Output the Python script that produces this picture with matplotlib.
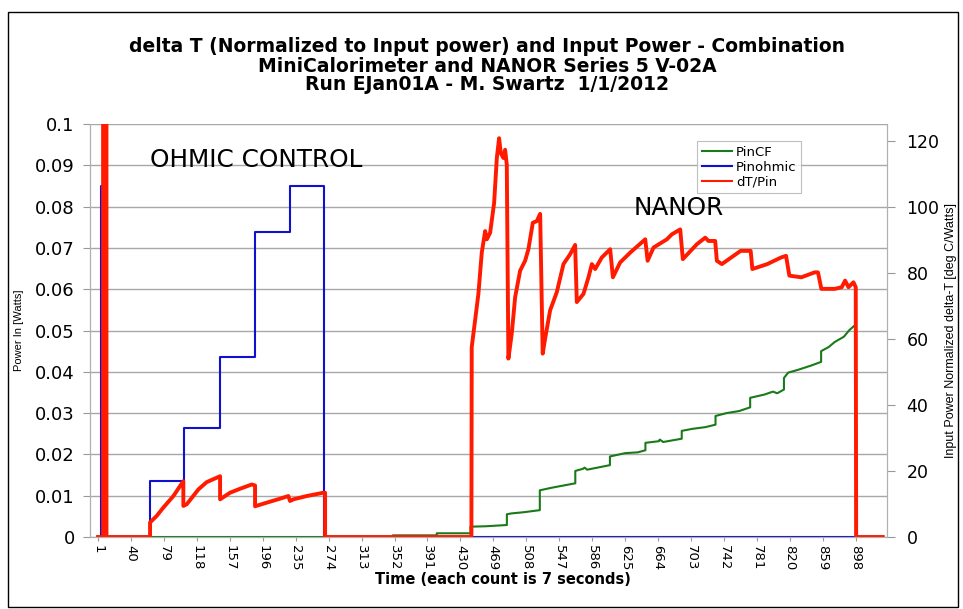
import matplotlib
matplotlib.use("Agg")
import matplotlib.pyplot as plt
from matplotlib.patches import Rectangle

# the source picture is stretched sideways, so the wide DejaVu face fits it best
plt.rcParams["font.family"] = ["DejaVu Sans"]
NARROW = ["Liberation Sans Narrow", "Liberation Sans"]

# ---- data (x = count, each count is 7 s) ----
cnt_ohm = [1, 4, 4, 9, 9, 62.6, 62.6, 103, 103, 145, 145, 187, 187, 228, 228, 268, 268, 930]
p_ohm = [0, 0, 0.085, 0.085, 0, 0, 0.0136, 0.0136, 0.0265, 0.0265, 0.0436, 0.0436,
         0.0738, 0.0738, 0.0851, 0.0851, 0, 0]

cnt_cf = [1, 350, 350, 402, 402, 442, 442, 460, 485, 485, 490, 505, 524, 524, 535, 545,
          566, 566, 575, 577, 580, 607, 607, 625, 640, 649, 649, 665, 666, 670, 692, 692,
          705, 720, 732, 732, 745, 760, 773, 773, 790, 800, 805, 813, 813, 818, 830, 845,
          857, 857, 866, 873, 884, 890, 896, 898, 898, 930]
p_cf = [0, 0, 0.0004, 0.0004, 0.0009, 0.0009, 0.0025, 0.0026, 0.0029, 0.0055, 0.0057,
        0.0060, 0.0065, 0.0113, 0.0118, 0.0122, 0.0130, 0.0160, 0.0165, 0.0168, 0.0163,
        0.0174, 0.0195, 0.0203, 0.0205, 0.0210, 0.0228, 0.0232, 0.0236, 0.0230, 0.0238,
        0.0257, 0.0262, 0.0266, 0.0272, 0.0293, 0.0300, 0.0305, 0.0314, 0.0337, 0.0345,
        0.0352, 0.0348, 0.0357, 0.0385, 0.0398, 0.0405, 0.0415, 0.0424, 0.0450, 0.0460,
        0.0472, 0.0485, 0.0500, 0.0511, 0.0511, 0, 0]

cnt_dt = [1, 7, 7, 11, 11, 62.6, 62.6, 70.5, 78.3, 90.2, 102, 102, 106, 119.8, 129.6, 145.5,
          145.5, 157.3, 169.1, 183, 186.9, 186.9, 200.8, 216.5, 226.3, 228.3, 232.3, 248.1,
          267.8, 269.8, 269.8,
          443, 443.4, 447.4, 451.3, 455.3, 459.3, 461.3, 465.2, 469.9, 473.1, 475.8, 477.8,
          480.9, 482.9, 484.9, 486.8, 490.8, 494.8, 500.7, 506.6, 510.5, 515.7, 520.4, 524.4,
          527.4, 530.3, 536.2, 544.1, 552, 559.9, 565.8, 567.8, 575.7, 581.6, 585.6, 589.5,
          597.4, 607.3, 610.5, 619.1, 631.1, 648.8, 651.6, 658.6, 674.4, 680.3, 690.2, 693.3,
          709.9, 719.8, 723.7, 731.6, 733.6, 739.5, 761.7, 773.6, 775.6, 793.3, 809.6, 815.5,
          819.4, 833.6, 849.4, 853.3, 857.3, 873.1, 881.4, 885.4, 889.4, 895.3, 898, 898.5, 930]
dt_pin = [0, 0, 200, 200, 0, 0, 4.4, 6.4, 8.9, 12.4, 16.9, 9.4, 9.9, 14.4, 16.6, 18.4,
          11.4, 13.4, 14.6, 15.9, 15.6, 9.3, 10.4, 11.6, 12.4, 10.9, 11.4, 12.4,
          13.4, 13.4, 0,
          0, 57.5, 65.6, 73.6, 86.1, 92.6, 90.1, 92.1, 101.1, 114.7, 120.7, 116.2,
          114.7, 117.2, 112.7, 54.0, 61.6, 72.6, 80.6, 83.6, 87.1, 95.1, 95.6, 97.8,
          55.5, 60.1, 68.6, 74.1, 82.6, 85.6, 88.4, 71.1, 73.6, 78.6, 82.6, 81.1,
          84.6, 87.1, 78.6, 83.1, 86.1, 90.1, 83.6, 87.6, 90.1, 91.6, 93.1, 84.1,
          88.6, 90.6, 89.6, 89.6, 83.6, 82.6, 86.6, 86.6, 81.1, 82.6, 84.6, 85.1,
          79.1, 78.6, 80.1, 80.1, 75.1, 75.1, 75.6, 77.6, 75.6, 77.1, 75.6, 0, 0]

x_ticks = list(range(1, 899, 39))
left_ticks = [0, 0.01, 0.02, 0.03, 0.04, 0.05, 0.06, 0.07, 0.08, 0.09, 0.1]
left_labels = ["0", "0.01", "0.02", "0.03", "0.04", "0.05", "0.06", "0.07", "0.08", "0.09", "0.1"]
right_ticks = [0, 20, 40, 60, 80, 100, 120]

W, H = 963, 609
fig = plt.figure(figsize=(W / 100, H / 100), dpi=100)
ax = fig.add_axes([90 / W, 1 - 537 / H, (887 - 90) / W, (537 - 124) / H])
ax2 = ax.twinx()

ln_cf, = ax.plot(cnt_cf, p_cf, color="#1a7a1a", lw=1.5, label="PinCF")
ln_ohm, = ax.plot(cnt_ohm, p_ohm, color="#1010d0", lw=1.5, label="Pinohmic")
ln_dt, = ax2.plot(cnt_dt, dt_pin, color="#ff1a00", lw=2.8, label="dT/Pin")

ax.set_xlim(-8.5, 935)
ax.set_ylim(0, 0.1)
ax2.set_ylim(0, 125)

ax.set_xticks(x_ticks)
ax.set_xticklabels([str(t) for t in x_ticks], rotation=-90, fontsize=9.5)
ax.set_yticks(left_ticks)
ax.set_yticklabels(left_labels, fontsize=13)
ax2.set_yticks(right_ticks)
ax2.set_yticklabels([str(t) for t in right_ticks], fontsize=12.5)
ax.tick_params(axis="x", length=3, color="#999999", pad=3)
ax.tick_params(axis="y", length=5, color="#999999", pad=6)
ax2.tick_params(axis="y", length=6, color="#999999", pad=8)

ax.yaxis.grid(True, color="#a8a8a8", lw=1)
ax.set_axisbelow(True)
for a in (ax, ax2):
    a.spines["top"].set_visible(False)
    for s in ("left", "right", "bottom"):
        a.spines[s].set_color("#b0b0b0")

ax.set_ylabel("Power In [Watts]", fontsize=8, family=NARROW, labelpad=8)
ax2.set_ylabel("Input Power Normalized delta-T [deg C/Watts]", fontsize=9,
               family=NARROW, labelpad=4)

fig.text(503 / W, 1 - 580 / H, "Time (each count is 7 seconds)", ha="center", va="center",
         fontsize=10.5, fontweight="bold")

for yy, line in [(47, "delta T (Normalized to Input power) and Input Power - Combination"),
                 (66, "MiniCalorimeter and NANOR Series 5 V-02A"),
                 (85, "Run EJan01A - M. Swartz  1/1/2012")]:
    fig.text(487 / W, 1 - yy / H, line, ha="center", va="center", fontsize=13.5, fontweight="bold")

fig.text(256 / W, 1 - 160 / H, "OHMIC CONTROL", ha="center", va="center", fontsize=17.8)
fig.text(679 / W, 1 - 208 / H, "NANOR", ha="center", va="center", fontsize=17.8)

leg = ax2.legend(handles=[ln_cf, ln_ohm, ln_dt], loc="upper left",
                 bbox_to_anchor=((697 - 90) / (887 - 90), 1 - (141 - 124) / (537 - 124)),
                 fontsize=9.5, frameon=True, fancybox=False, handlelength=2.3,
                 borderpad=0.35, labelspacing=0.15, handletextpad=0.3, borderaxespad=0)
leg.get_frame().set_edgecolor("#b0b0b0")
leg.get_frame().set_linewidth(0.8)
for h in leg.get_lines():
    h.set_linewidth(1.5)

fig.patches.append(Rectangle((8 / W, 1 - 607 / H), (958 - 8) / W, (607 - 12) / H,
                             transform=fig.transFigure, fill=False, edgecolor="black", lw=1))

fig.savefig("out.png", dpi=100)
